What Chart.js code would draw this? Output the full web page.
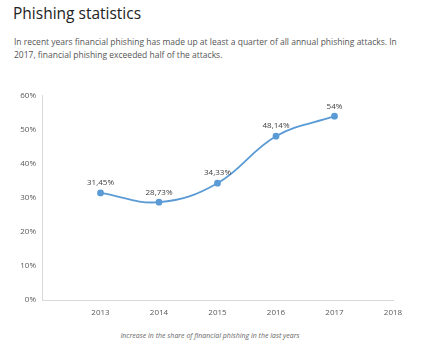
<!DOCTYPE html>
<html>
<head>
  <style>
    body { margin: 0; width: 430px; height: 350px; background: #fff; position: relative; overflow: hidden; font-family: "Open Sans", sans-serif; }
    .title { position: absolute; left: 13px; top: 2px; font-size: 15.5px; color: #222; }
    .intro { position: absolute; left: 14px; top: 35px; width: 400px; font-size: 8.5px; line-height: 13px; color: #555; }
    .chart-box { position: absolute; left: 0; top: 85px; width: 430px; height: 240px; }
    .caption { position: absolute; left: 0; width: 420px; top: 331px; text-align: center; font-size: 7px; font-style: italic; color: #666; }
  </style>
</head>
<body>
  <div class="title">Phishing statistics</div>
  <div class="intro">In recent years financial phishing has made up at least a quarter of all annual phishing attacks. In<br>2017, financial phishing exceeded half of the attacks.</div>
  <div class="chart-box"><canvas id="myChart"></canvas></div>
  <div class="caption">Increase in the share of financial phishing in the last years</div>

  <script src="https://cdn.jsdelivr.net/npm/chart.js"></script>
  <script>
    const years = [2013, 2014, 2015, 2016, 2017];
    const shares = [31.45, 28.73, 34.33, 48.14, 54];
    const shareLabels = ['31,45%', '28,73%', '34,33%', '48,14%', '54%'];

    const lineColor = '#5b9bd5';
    const textColor = '#595959';

    const valueLabels = {
      id: 'valueLabels',
      afterDatasetsDraw(chart) {
        const ctx = chart.ctx;
        const meta = chart.getDatasetMeta(0);
        ctx.save();
        ctx.font = '8px "Open Sans"';
        ctx.fillStyle = '#404040';
        ctx.textAlign = 'center';
        ctx.textBaseline = 'bottom';
        meta.data.forEach((pt, i) => {
          ctx.fillText(shareLabels[i], pt.x, pt.y - 6);
        });
        ctx.restore();
      }
    };

    new Chart(document.getElementById('myChart'), {
      type: 'line',
      data: {
        datasets: [{
          data: years.map((y, i) => ({ x: y, y: shares[i] })),
          borderColor: lineColor,
          backgroundColor: lineColor,
          borderWidth: 1.8,
          pointRadius: 2.5,
          tension: 0.4
        }]
      },
      options: {
        responsive: true,
        maintainAspectRatio: false,
        animation: false,
        layout: { padding: { top: 8, right: 37, left: 0, bottom: 0 } },
        plugins: { legend: { display: false }, tooltip: { enabled: false } },
        scales: {
          x: {
            type: 'linear',
            min: 2012,
            max: 2018,
            grid: { display: false, drawTicks: false },
            border: { color: '#d9d9d9' },
            ticks: {
              stepSize: 1,
              padding: 8,
              color: textColor,
              font: { family: 'Open Sans', size: 8 },
              callback: v => v === 2012 ? '' : String(v)
            },
            afterFit: s => { s.height = 25; }
          },
          y: {
            min: 0,
            max: 60,
            grid: { display: false, drawTicks: false },
            border: { color: '#d9d9d9' },
            ticks: {
              stepSize: 10,
              padding: 6,
              color: textColor,
              font: { family: 'Open Sans', size: 8 },
              callback: v => v + '%'
            },
            afterFit: s => { s.width = 42; }
          }
        }
      },
      plugins: [valueLabels]
    });
  </script>
</body>
</html>
